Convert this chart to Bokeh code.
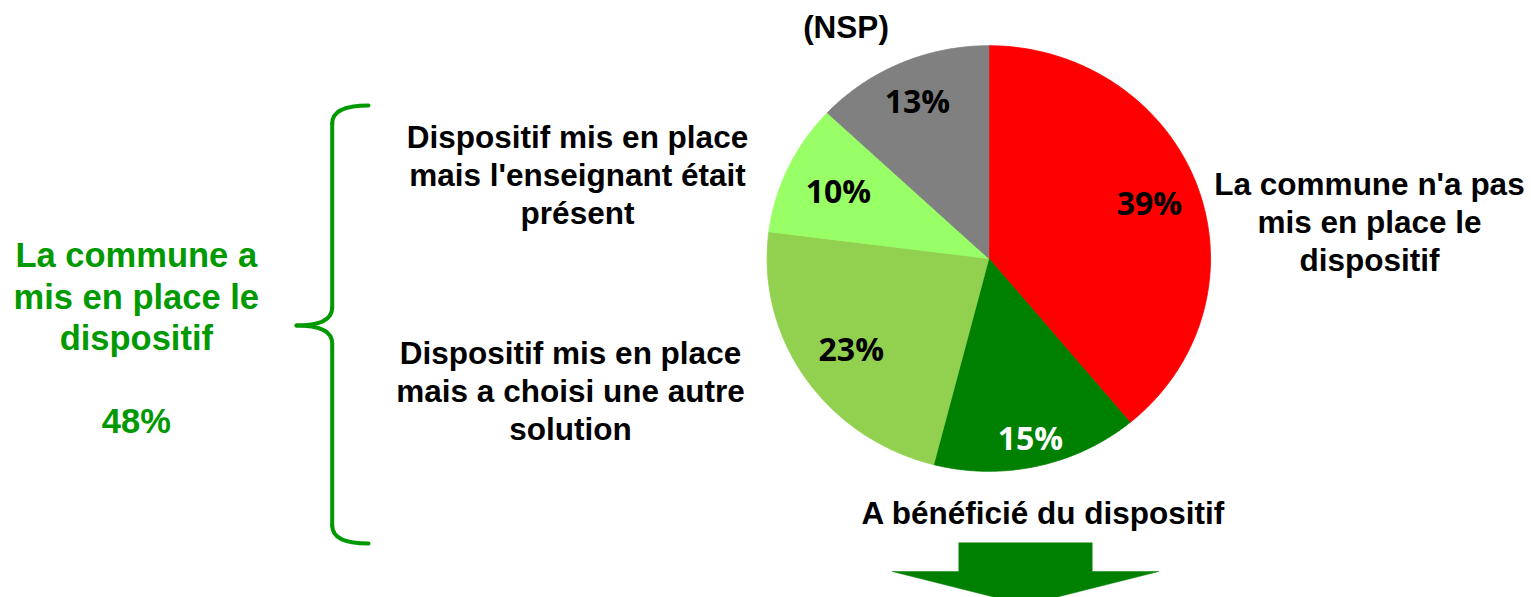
import numpy as np
from bokeh.plotting import figure
from bokeh.models import Range1d
from bokeh.core.properties import value
from bokeh.embed import file_html
from bokeh.resources import INLINE

# ---- data ----
categories = [
    "La commune n'a pas mis en place le dispositif",
    "A bénéficié du dispositif",
    "Dispositif mis en place mais a choisi une autre solution",
    "Dispositif mis en place mais l'enseignant était présent",
    "(NSP)",
]
values = [39, 15, 23, 10, 13]
group_members = [1, 2, 3]  # slices where "la commune a mis en place le dispositif"

# ---- styles / layout ----
colors = ["#FF0000", "#008000", "#92D050", "#99FF66", "#808080"]
label_colors = ["black", "white", "black", "black", "black"]
label_r = [0.77, 0.86, 0.75, 0.75, 0.81]
GREEN = "#009900"
DY = -9  # baseline correction

W, H = 1531, 597
p = figure(width=W, height=H, x_range=Range1d(0, W), y_range=Range1d(H, 0),
           output_backend="svg", toolbar_location=None, x_axis_type=None, y_axis_type=None,
           min_border=0)
p.grid.visible = False
p.outline_line_color = None
p.background_fill_color = "white"

# ---- pie (slightly elliptical, as in the reference) ----
cx, cy, rx, ry = 988.3, 258.0, 221.7, 212.8
total = float(sum(values))
cum = np.concatenate([[0], np.cumsum(values)]) / total
xs, ys = [], []
for i in range(len(values)):
    th = np.linspace(2 * np.pi * cum[i], 2 * np.pi * cum[i + 1], 120)
    xs.append(list(np.concatenate([[cx], cx + rx * np.sin(th)])))
    ys.append(list(np.concatenate([[cy], cy - ry * np.cos(th)])))
p.patches(xs=xs, ys=ys, fill_color=colors, line_color=colors, line_width=0.8)

# percentage labels
lx, ly, lt = [], [], []
for i, v in enumerate(values):
    mid = 2 * np.pi * (cum[i] + cum[i + 1]) / 2
    lx.append(cx + label_r[i] * rx * np.sin(mid))
    ly.append(cy - label_r[i] * ry * np.cos(mid))
    lt.append(f"{v}%")
p.text(x=lx, y=ly, text=lt, text_color=label_colors, text_font=value("Open Sans"),
       text_font_style="bold", text_font_size="32px", text_align="center",
       text_baseline="middle")

# ---- category labels ----
def lines(x, y0, dy, parts, color="black", size="31.5px"):
    p.text(x=[x] * len(parts), y=[y0 + DY + k * dy for k in range(len(parts))], text=parts,
           text_color=color, text_font=value("Liberation Sans"), text_font_style="bold",
           text_font_size=size, text_align="center", text_baseline="alphabetic")

lines(1369, 192.0, 38.3, ["La commune n'a pas", "mis en place le", "dispositif"])
lines(1043, 521.7, 38.3, ["A bénéficié du dispositif"])
lines(570, 361.0, 38.0, ["Dispositif mis en place", "mais a choisi une autre", "solution"])
lines(577, 145.7, 37.7, ["Dispositif mis en place", "mais l'enseignant était", "présent"])
lines(845.5, 35.0, 38.0, ["(NSP)"])

grp = sum(values[i] for i in group_members)
lines(135.8, 263.5, 41.6, ["La commune a", "mis en place le", "dispositif", "", f"{grp}%"],
      color=GREEN, size="34.5px")

# ---- brace ----
bx, tipx = 331.7, 296.0
p.quadratic(x0=[368, bx, tipx, bx], y0=[105, 307, 325, 525],
            x1=[bx, tipx, bx, 368], y1=[123, 325, 343, 543],
            cx=[bx, bx, bx, bx], cy=[105, 325, 325, 543],
            line_color=GREEN, line_width=4, line_cap="round")
p.segment(x0=[bx, bx], y0=[123, 343], x1=[bx, bx], y1=[307, 525],
          line_color=GREEN, line_width=4, line_cap="round")

# ---- arrow ----
p.patch(x=[958.3, 1091.7, 1091.7, 1158.3, 1025, 891.7, 958.3],
        y=[542.3, 542.3, 571, 571, 604.5, 571, 571],
        fill_color="#008000", line_color="#008000", line_width=0.5)

open("out.html", "w").write(file_html(p, INLINE))
